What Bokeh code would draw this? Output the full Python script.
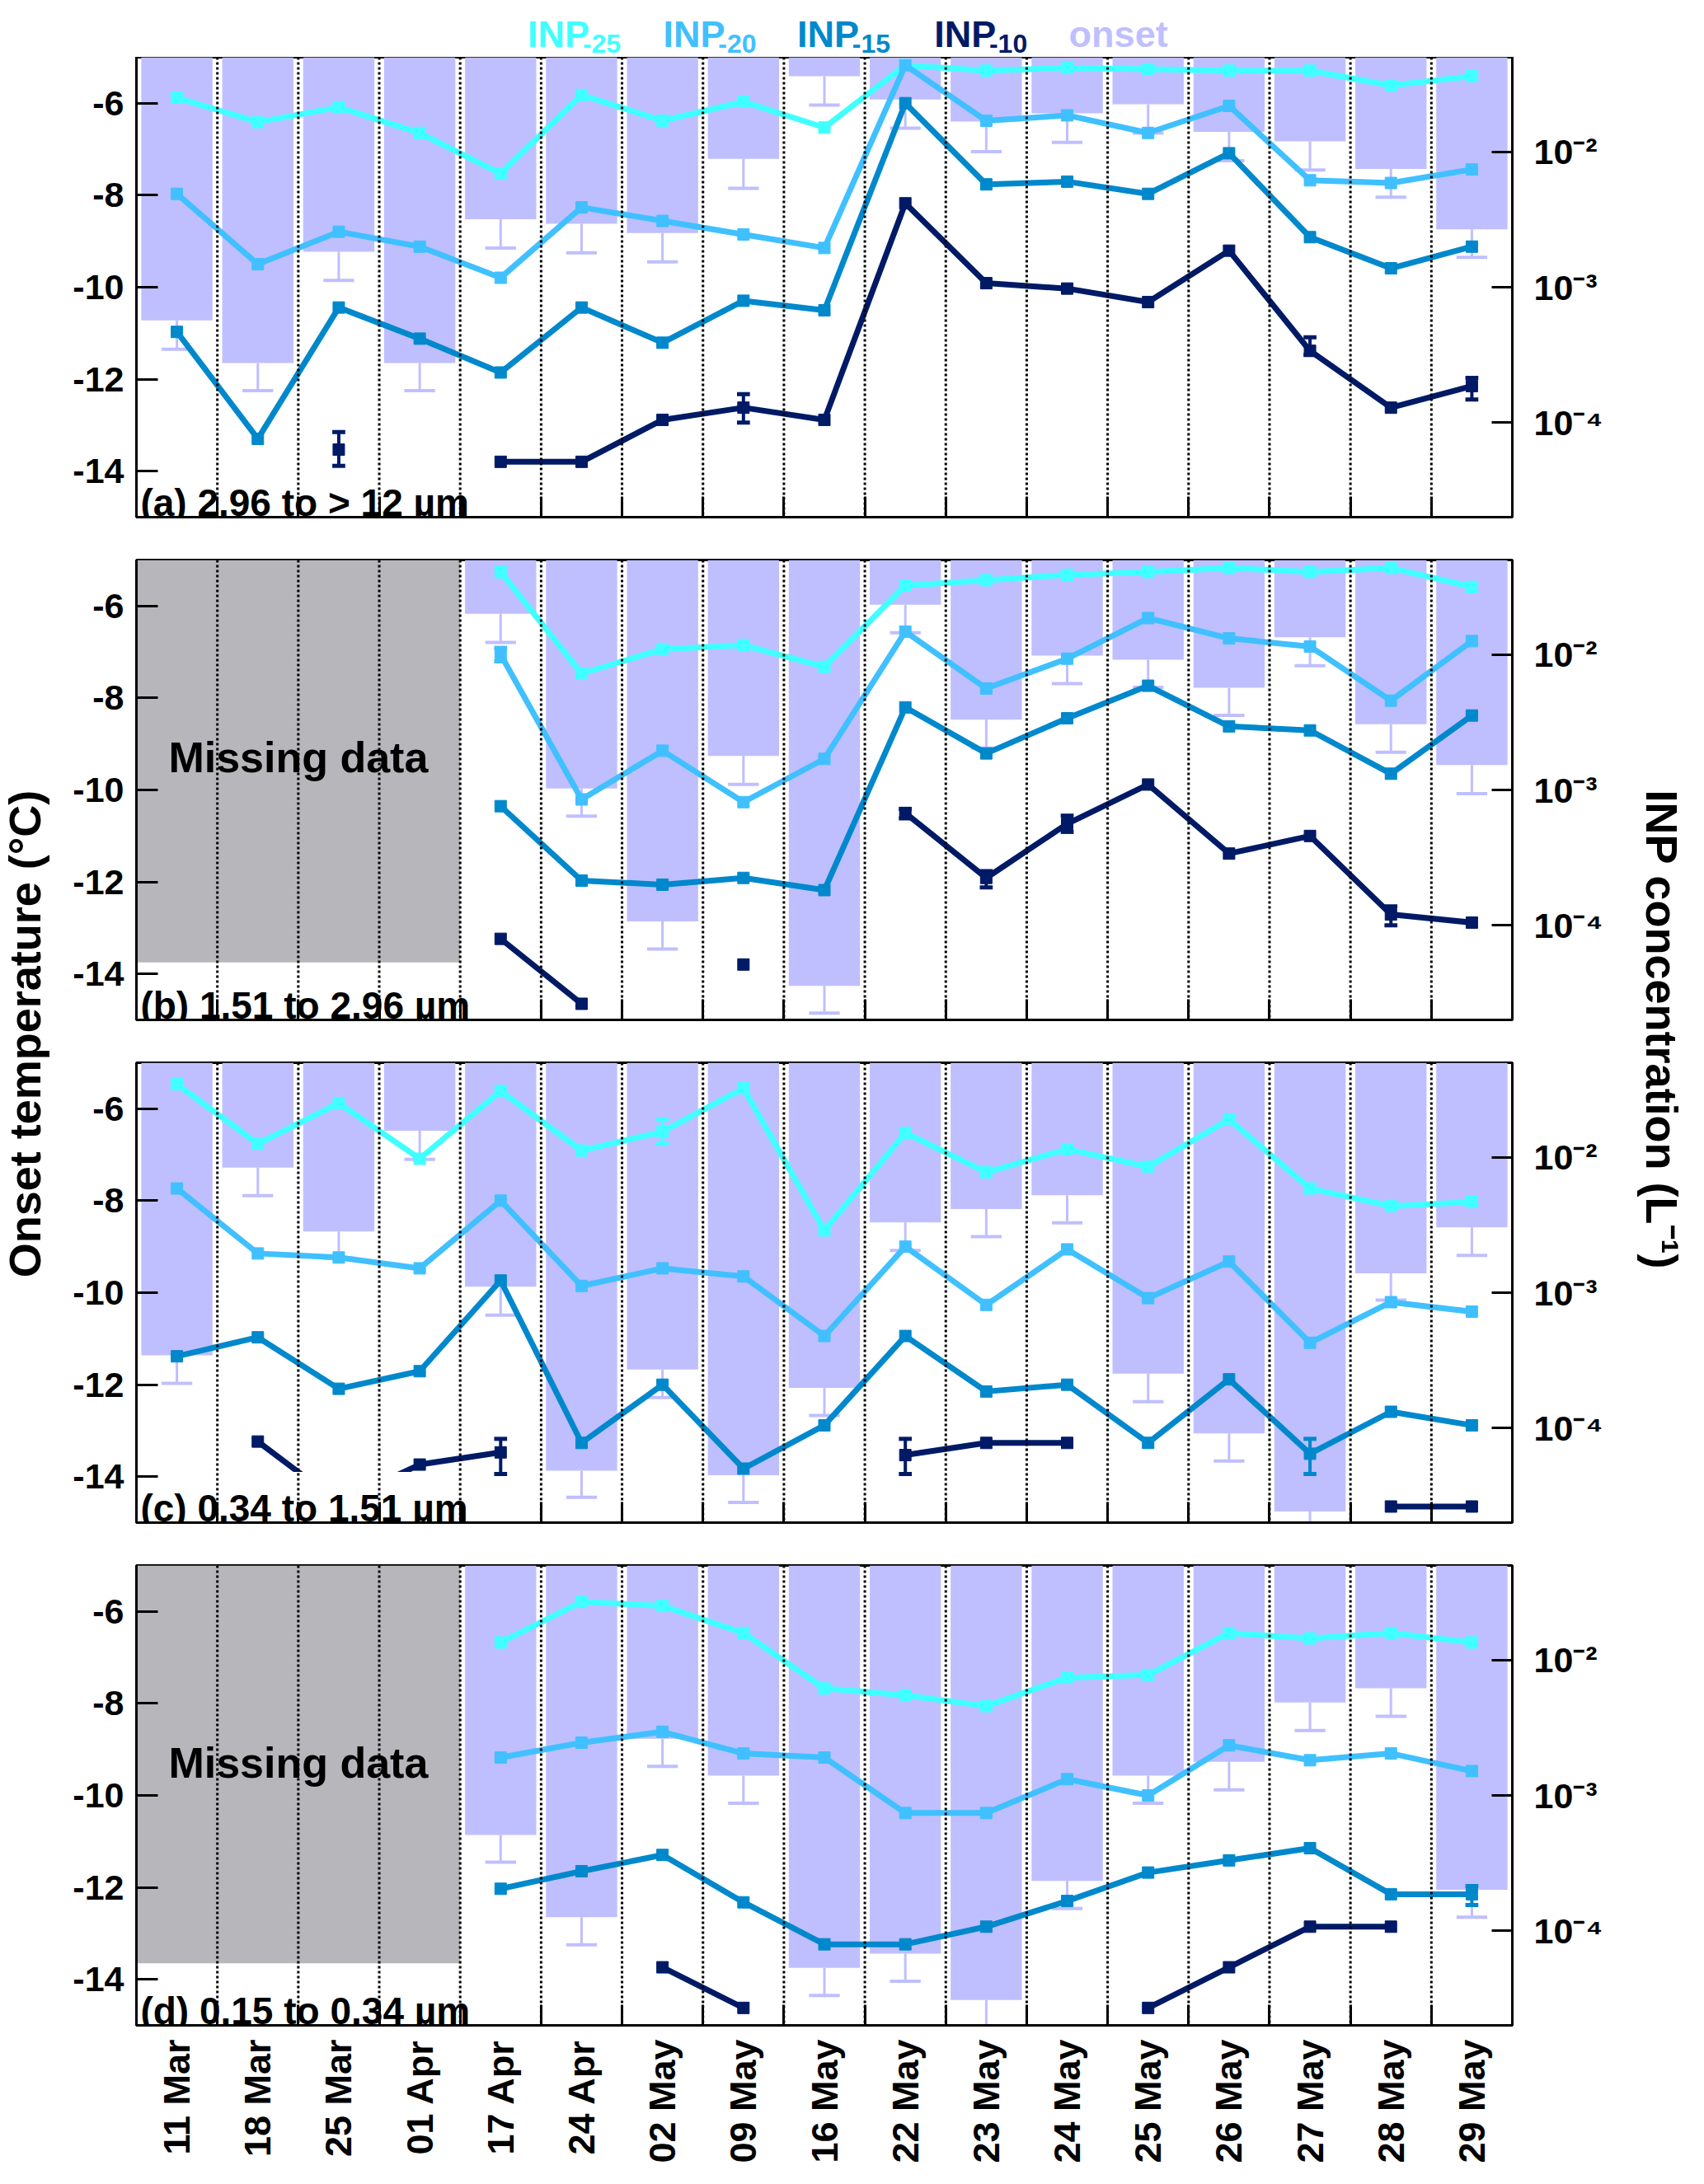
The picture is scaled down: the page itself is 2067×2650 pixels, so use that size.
import math

import numpy as np
from bokeh.embed import file_html
from bokeh.layouts import column, row
from bokeh.models import (CustomJSTickFormatter, FixedTicker, Label, LinearAxis,
                          LogAxis, LogScale, Range1d, Span)
from bokeh.plotting import figure
from bokeh.resources import INLINE

nan = float("nan")

dates = ["11 Mar", "18 Mar", "25 Mar", "01 Apr", "17 Apr", "24 Apr", "02 May",
         "09 May", "16 May", "22 May", "23 May", "24 May", "25 May", "26 May",
         "27 May", "28 May", "29 May"]

# onset temperature (deg C) and its error, per size range
onset_a = [-10.72, -11.65, -9.23, -11.65, -8.52, -8.62, -8.82, -7.21, -5.41,
           -5.92, -6.40, -6.22, -6.02, -6.62, -6.83, -7.43, -8.74]
onset_err_a = [0.63, 0.60, 0.62, 0.60, 0.63, 0.63, 0.63, 0.64, 0.63, 0.62,
               0.65, 0.63, 0.63, 0.63, 0.62, 0.61, 0.61]
onset_b = [nan, nan, nan, nan, -6.17, -9.97, -12.86, -9.26, -14.26, -5.97,
           -8.47, -7.08, -7.17, -7.78, -6.68, -8.57, -9.46]
onset_err_b = [nan, nan, nan, nan, 0.62, 0.60, 0.60, 0.62, 0.59, 0.61, 0.62,
               0.61, 0.60, 0.60, 0.62, 0.61, 0.62]
onset_c = [-11.36, -7.28, -8.67, -6.48, -9.87, -13.87, -11.67, -13.97, -12.07,
           -8.47, -8.18, -7.88, -11.76, -13.06, -14.76, -9.58, -8.58]
onset_err_c = [0.61, 0.61, 0.58, 0.62, 0.62, 0.58, 0.61, 0.59, 0.60, 0.61,
               0.60, 0.60, 0.61, 0.60, 0.60, 0.58, 0.61]
onset_d = [nan, nan, nan, nan, -10.86, -12.65, -8.77, -9.57, -13.75, -13.44,
           -14.45, -11.86, -9.57, -9.27, -7.98, -7.67, -12.05]
onset_err_d = [nan, nan, nan, nan, 0.59, 0.60, 0.60, 0.60, 0.60, 0.60, 0.60,
               0.60, 0.60, 0.61, 0.61, 0.61, 0.60]

# log10 of INP concentration (L-1)
inp25_a = [-1.60, -1.78, -1.67, -1.86, -2.16, -1.58, -1.77, -1.63, -1.82, -1.36,
           -1.40, -1.38, -1.39, -1.40, -1.40, -1.51, -1.44]
inp20_a = [-2.31, -2.83, -2.59, -2.70, -2.93, -2.41, -2.51, -2.61, -2.71, -1.36,
           -1.77, -1.73, -1.86, -1.66, -2.21, -2.23, -2.13]
inp15_a = [-3.33, -4.12, -3.15, -3.38, -3.63, -3.15, -3.41, -3.10, -3.17, -1.64,
           -2.24, -2.22, -2.31, -2.01, -2.63, -2.86, -2.70]
inp10_a = [nan, nan, -4.20, nan, -4.29, -4.29, -3.98, -3.89, -3.98, -2.38,
           -2.97, -3.01, -3.11, -2.73, -3.47, -3.89, -3.73]

inp25_b = [nan, nan, nan, nan, -1.39, -2.14, -1.96, -1.93, -2.09, -1.49, -1.45,
           -1.41, -1.39, -1.36, -1.39, -1.36, -1.50]
inp20_b = [nan, nan, nan, nan, -2.00, -3.07, -2.71, -3.09, -2.77, -1.83, -2.25,
           -2.03, -1.73, -1.88, -1.94, -2.34, -1.90]
inp15_b = [nan, nan, nan, nan, -3.12, -3.67, -3.70, -3.65, -3.74, -2.39, -2.73,
           -2.47, -2.23, -2.53, -2.56, -2.88, -2.45]
inp10_b = [nan, nan, nan, nan, -4.10, -4.58, nan, -4.29, nan, -3.17, -3.65,
           -3.25, -2.96, -3.47, -3.34, -3.92, -3.98]

inp25_c = [-1.46, -1.90, -1.60, -2.01, -1.51, -1.95, -1.81, -1.49, -2.54, -1.82,
           -2.11, -1.94, -2.07, -1.72, -2.23, -2.36, -2.33]
inp20_c = [-2.23, -2.71, -2.74, -2.82, -2.32, -2.95, -2.82, -2.88, -3.32, -2.66,
           -3.09, -2.68, -3.04, -2.77, -3.37, -3.07, -3.14]
inp15_c = [-3.47, -3.33, -3.71, -3.58, -2.91, -4.11, -3.68, -4.30, -3.98, -3.32,
           -3.73, -3.68, -4.11, -3.64, -4.19, -3.88, -3.98]
inp10_c = [nan, -4.10, -4.55, -4.27, -4.18, nan, nan, nan, nan, -4.20, -4.11,
           -4.11, nan, nan, nan, -4.58, -4.58]

inp25_d = [nan, nan, nan, nan, -1.87, -1.57, -1.60, -1.80, -2.21, -2.26, -2.34,
           -2.13, -2.11, -1.80, -1.84, -1.80, -1.87]
inp20_d = [nan, nan, nan, nan, -2.72, -2.61, -2.53, -2.69, -2.72, -3.13, -3.13,
           -2.88, -3.00, -2.63, -2.74, -2.69, -2.82]
inp15_d = [nan, nan, nan, nan, -3.69, -3.56, -3.44, -3.79, -4.10, -4.10, -3.97,
           -3.78, -3.57, -3.48, -3.39, -3.73, -3.73]
inp10_d = [nan, nan, nan, nan, nan, nan, -4.27, -4.57, nan, nan, nan, nan,
           -4.57, -4.27, -3.97, -3.97, nan]

# visible INP error bars: (series, column, log10 low, log10 high)
inp_err_a = [("INP-10", 2, -4.32, -4.07), ("INP-10", 7, -4.00, -3.79),
             ("INP-10", 14, -3.50, -3.37), ("INP-10", 16, -3.83, -3.67)]
inp_err_b = [("INP-10", 9, -3.21, -3.14), ("INP-10", 10, -3.72, -3.60),
             ("INP-10", 11, -3.31, -3.19), ("INP-10", 15, -4.00, -3.86),
             ("INP-20", 4, -2.05, -1.95)]
inp_err_c = [("INP-10", 4, -4.34, -4.08), ("INP-10", 9, -4.34, -4.08),
             ("INP-15", 14, -4.34, -4.08), ("INP-25", 6, -1.90, -1.72)]
inp_err_d = [("INP-15", 16, -3.81, -3.67)]

COLORS = {"INP-25": "#40FFFF", "INP-20": "#40C0FF", "INP-15": "#0088CC",
          "INP-10": "#001A66"}
LAVENDER = "#BFBFFF"
GRAY = "#B7B7BB"
FONT = "Liberation Sans"

FRAME_W = 1669
FRAME_H = 558
LEFT_B = 100
RIGHT_B = 130
PANEL_W = LEFT_B + FRAME_W + RIGHT_B


def style_axis(ax, size="43px"):
    ax.axis_line_width = 3
    ax.major_tick_line_width = 3
    ax.minor_tick_line_width = 3
    ax.major_label_text_font = FONT
    ax.major_label_text_font_style = "bold"
    ax.major_label_text_font_size = size
    ax.major_label_text_color = "black"


def make_panel(onset, onset_err, series, inp_err, tag, box_top, missing,
               top_b, bottom_b, last=False):
    p = figure(width=PANEL_W, height=top_b + FRAME_H + bottom_b,
               x_range=Range1d(-0.5, 16.5), y_range=Range1d(-15, -5),
               x_axis_type=None, y_axis_type=None,
               output_backend="svg", toolbar_location=None,
               min_border_left=LEFT_B, min_border_right=RIGHT_B,
               min_border_top=top_b, min_border_bottom=bottom_b)
    p.extra_y_ranges = {"inp": Range1d(2e-5, 5e-2)}
    p.extra_y_scales = {"inp": LogScale()}
    p.outline_line_color = "black"
    p.outline_line_width = 3
    p.background_fill_color = "white"

    if missing:
        p.quad(left=-0.5, right=3.5, bottom=-15, top=-5, fill_color=GRAY,
               line_color=None)

    xs = [i for i, v in enumerate(onset) if not math.isnan(v)]
    bot = [onset[i] for i in xs]
    low = [onset[i] - onset_err[i] for i in xs]
    p.vbar(x=xs, width=0.88, top=-5, bottom=bot, fill_color=LAVENDER,
           line_color=None)
    p.segment(x0=xs, y0=bot, x1=xs, y1=low, line_color=LAVENDER, line_width=3)
    p.segment(x0=[x - 0.19 for x in xs], y0=low, x1=[x + 0.19 for x in xs],
              y1=low, line_color=LAVENDER, line_width=4)

    x = np.arange(17)
    for name, vals in series:
        conc = 10 ** np.array(vals)
        p.line(x, conc, y_range_name="inp", line_color=COLORS[name],
               line_width=7)
        p.scatter(x, conc, y_range_name="inp", marker="square", size=14,
                  fill_color=COLORS[name], line_color=COLORS[name])
    for name, i, lo, hi in inp_err:
        c = COLORS[name]
        p.segment(x0=[i], y0=[10 ** lo], x1=[i], y1=[10 ** hi],
                  y_range_name="inp", line_color=c, line_width=4)
        p.segment(x0=[i - 0.08, i - 0.08], y0=[10 ** lo, 10 ** hi],
                  x1=[i + 0.08, i + 0.08], y1=[10 ** lo, 10 ** hi],
                  y_range_name="inp", line_color=c, line_width=5)

    # white box behind the panel tag
    p.quad(left=-0.5, right=3.6, bottom=-15, top=box_top, fill_color="white",
           line_color=None)

    for k in range(16):
        p.add_layout(Span(location=k + 0.5, dimension="height",
                          line_color="black", line_width=3, line_dash="3 3"))

    p.add_layout(Label(x=-0.45, y=-14.68, text=tag, text_font=FONT,
                       text_font_style="bold", text_font_size="46px",
                       text_baseline="alphabetic", text_color="black"))
    if missing:
        p.add_layout(Label(x=1.5, y=-9.3, text="Missing data", text_font=FONT,
                           text_font_style="bold", text_font_size="52px",
                           text_align="center", text_baseline="middle",
                           text_color="black"))

    left = LinearAxis(ticker=FixedTicker(ticks=[-14, -12, -10, -8, -6]),
                      major_label_overrides={-14: "-14", -12: "-12", -10: "-10",
                                             -8: "-8", -6: "-6"})
    style_axis(left)
    left.major_tick_in = 26
    left.major_tick_out = 0
    left.major_label_standoff = 15
    p.add_layout(left, "left")

    right = LogAxis(y_range_name="inp",
                    ticker=FixedTicker(ticks=[1e-4, 1e-3, 1e-2]),
                    formatter=CustomJSTickFormatter(code="""
const e = Math.round(Math.log10(tick));
const m = {"-": "\\u207b", "0": "\\u2070", "1": "\\u00b9", "2": "\\u00b2",
           "3": "\\u00b3", "4": "\\u2074", "5": "\\u2075"};
return "10" + String(e).split("").map(c => m[c]).join("");
"""))
    style_axis(right)
    right.major_tick_in = 25
    right.major_tick_out = 0
    right.minor_tick_in = 0
    right.minor_tick_out = 0
    right.major_label_standoff = 26
    p.add_layout(right, "right")

    # date labels only under the last panel; boundary ticks on all panels
    bottom = LinearAxis(ticker=FixedTicker(ticks=list(range(17)) if last else [],
                                           minor_ticks=[k - 0.5 for k in range(18)]),
                        major_label_overrides={k: d for k, d in enumerate(dates)})
    style_axis(bottom, "45px")
    bottom.major_tick_in = 0
    bottom.major_tick_out = 0
    bottom.minor_tick_in = 25
    bottom.minor_tick_out = 0
    bottom.major_label_orientation = math.pi / 2
    bottom.major_label_standoff = 17
    p.add_layout(bottom, "below")
    return p


pa = make_panel(onset_a, onset_err_a,
                [("INP-25", inp25_a), ("INP-20", inp20_a), ("INP-15", inp15_a),
                 ("INP-10", inp10_a)],
                inp_err_a, "(a) 2.96 to > 12 µm", -14.0, False, 0, 26)
pb = make_panel(onset_b, onset_err_b,
                [("INP-25", inp25_b), ("INP-20", inp20_b), ("INP-15", inp15_b),
                 ("INP-10", inp10_b)],
                inp_err_b, "(b) 1.51 to 2.96 µm", -13.75, True, 26, 26)
pc = make_panel(onset_c, onset_err_c,
                [("INP-25", inp25_c), ("INP-20", inp20_c), ("INP-15", inp15_c),
                 ("INP-10", inp10_c)],
                inp_err_c, "(c) 0.34 to 1.51 µm", -13.9, False, 26, 26)
pd = make_panel(onset_d, onset_err_d,
                [("INP-25", inp25_d), ("INP-20", inp20_d), ("INP-15", inp15_d),
                 ("INP-10", inp10_d)],
                inp_err_d, "(d) 0.15 to 0.34 µm", -13.65, True, 26, 172, last=True)

LEG_H = 69
TOTAL_H = LEG_H + pa.height + pb.height + pc.height + pd.height


def blank(w, h):
    f = figure(width=w, height=h, x_range=Range1d(0, w), y_range=Range1d(0, h),
               x_axis_type=None, y_axis_type=None, output_backend="svg",
               toolbar_location=None, min_border=0)
    f.outline_line_color = None
    f.grid.visible = False
    return f


legend = blank(PANEL_W, LEG_H)
for name, x0 in [("INP-25", 540), ("INP-20", 727), ("INP-15", 912), ("INP-10", 1101)]:
    legend.add_layout(Label(x=x0, y=28, text="INP", text_font=FONT,
                            text_font_style="bold", text_font_size="45px",
                            text_color=COLORS[name], text_baseline="alphabetic"))
    legend.add_layout(Label(x=x0 + 76, y=17, text=name[3:], text_font=FONT,
                            text_font_style="bold", text_font_size="32px",
                            text_color=COLORS[name], text_baseline="alphabetic"))
legend.add_layout(Label(x=1287, y=28, text="onset", text_font=FONT,
                        text_font_style="bold", text_font_size="45px",
                        text_color=LAVENDER, text_baseline="alphabetic"))

left_fig = blank(65, TOTAL_H)
left_fig.add_layout(Label(x=29, y=TOTAL_H - 1254, text="Onset temperature (°C)",
                          angle=math.pi / 2, text_font=FONT, text_font_style="bold",
                          text_font_size="54px", text_align="center",
                          text_baseline="middle", text_color="black"))
right_fig = blank(85, TOTAL_H)
right_fig.add_layout(Label(x=51, y=TOTAL_H - 1249, text="INP concentration (L⁻¹)",
                           angle=-math.pi / 2, text_font=FONT, text_font_style="bold",
                           text_font_size="54px", text_align="center",
                           text_baseline="middle", text_color="black"))

layout = row(left_fig, column(legend, pa, pb, pc, pd, spacing=0), right_fig,
             spacing=0)

open("out.html", "w").write(file_html(layout, INLINE))
